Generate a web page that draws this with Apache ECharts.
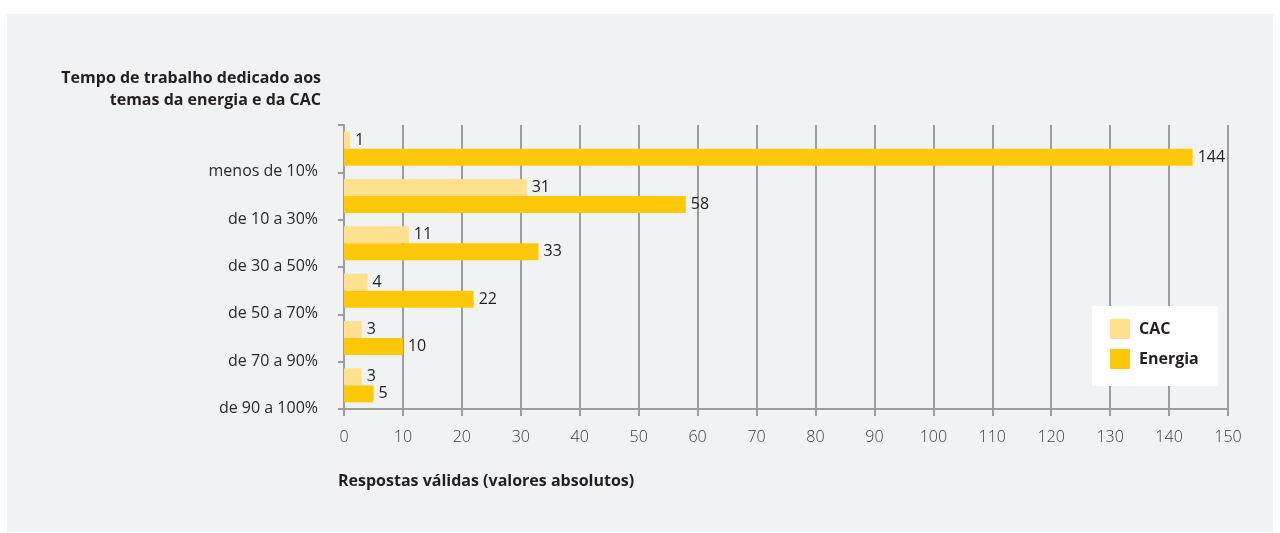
<!DOCTYPE html>
<html>
<head>
<meta charset="utf-8">
<script src="https://cdn.jsdelivr.net/npm/echarts@6/dist/echarts.min.js"></script>
<style>
  html, body { margin: 0; padding: 0; background: #ffffff; }
  #wrap { position: relative; width: 1280px; height: 533px; }
  #panel { position: absolute; left: 7px; top: 14px; width: 1266px; height: 518px; background: #f1f2f4; }
  #chart { position: absolute; left: 0; top: 0; width: 1280px; height: 533px; }
</style>
</head>
<body>
<div id="wrap">
  <div id="panel"></div>
  <div id="chart"></div>
</div>
<script>
// Categories, top to bottom
const categories = ['menos de 10%', 'de 10 a 30%', 'de 30 a 50%', 'de 50 a 70%', 'de 70 a 90%', 'de 90 a 100%'];
// Valid answers (absolute values)
const cacValues = [1, 31, 11, 4, 3, 3];
const energiaValues = [144, 58, 33, 22, 10, 5];
const seriesNames = ['CAC', 'Energia'];
const yTitle = 'Tempo de trabalho dedicado aos\ntemas da energia e da CAC';
const xTitle = 'Respostas válidas (valores absolutos)';

const FONT = '"Open Sans", "Noto Sans", sans-serif';
const GRID_GRAY = '#9d9d9d';
const TEXT = '#231f20';

const chart = echarts.init(document.getElementById('chart'), null, { renderer: 'canvas' });

const valueLabel = {
  show: true,
  position: 'right',
  distance: 5,
  fontFamily: FONT,
  fontSize: 16,
  color: TEXT
};

chart.setOption({
  backgroundColor: 'transparent',
  animation: false,
  textStyle: { fontFamily: FONT },
  grid: { left: 344, right: 52, top: 125, bottom: 124, containLabel: false },
  graphic: [
    {
      type: 'text',
      x: 321,
      y: 67,
      style: {
        text: yTitle,
        align: 'right',
        verticalAlign: 'top',
        font: 'bold 16px ' + FONT,
        fill: TEXT,
        lineHeight: 22
      }
    },
    {
      type: 'text',
      x: 338,
      y: 481,
      style: {
        text: xTitle,
        align: 'left',
        verticalAlign: 'middle',
        font: 'bold 16px ' + FONT,
        fill: TEXT
      }
    }
  ],
  legend: {
    orient: 'vertical',
    left: 1092,
    top: 306,
    padding: [13, 19, 17, 18],
    backgroundColor: '#ffffff',
    itemWidth: 20,
    itemHeight: 20,
    itemGap: 10,
    icon: 'rect',
    data: seriesNames,
    textStyle: { fontFamily: FONT, fontSize: 16, fontWeight: 'bold', color: TEXT, padding: [0, 0, 0, 4] }
  },
  xAxis: {
    type: 'value',
    min: 0,
    max: 150,
    interval: 10,
    axisLine: { show: true, lineStyle: { color: GRID_GRAY, width: 2 } },
    axisTick: { show: true, length: 7, lineStyle: { color: GRID_GRAY, width: 2 } },
    splitLine: { show: true, lineStyle: { color: GRID_GRAY, width: 2 } },
    axisLabel: { fontFamily: FONT, fontSize: 16, fontWeight: 300, color: '#3a3a3a', margin: 20 }
  },
  yAxis: {
    type: 'category',
    inverse: true,
    data: categories,
    axisLine: { show: true, lineStyle: { color: GRID_GRAY, width: 2 } },
    axisTick: { show: true, length: 6, lineStyle: { color: GRID_GRAY, width: 2 } },
    axisLabel: {
      fontFamily: FONT,
      fontSize: 16,
      color: '#2a2a2a',
      margin: 26,
      verticalAlign: 'top',
      padding: [15, 0, 0, 0]
    }
  },
  series: [
    {
      name: seriesNames[0],
      type: 'bar',
      data: cacValues,
      barWidth: 17,
      barGap: '0%',
      itemStyle: { color: '#fee08f' },
      label: valueLabel
    },
    {
      name: seriesNames[1],
      type: 'bar',
      data: energiaValues,
      barWidth: 17,
      itemStyle: { color: '#fec80a' },
      label: valueLabel
    }
  ]
});
</script>
</body>
</html>
